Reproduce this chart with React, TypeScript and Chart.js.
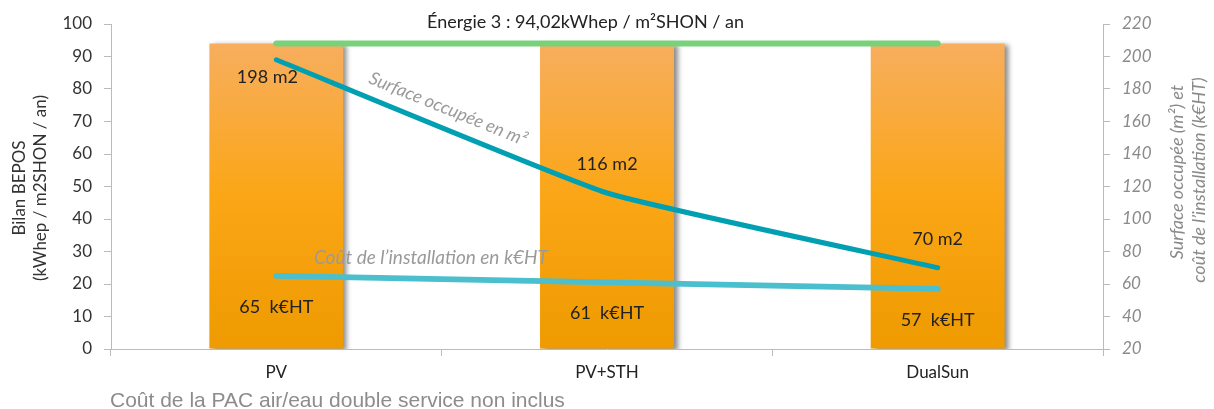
import React, { useEffect, useRef } from "react";
import { Chart, registerables } from "chart.js";

Chart.register(...registerables);

const categories = ["PV", "PV+STH", "DualSun"];
const bilanBepos = [94.02, 94.02, 94.02];
const energieRef = [94.02, 94.02, 94.02];
const surfaceM2 = [198, 116, 70];
const coutKEHT = [65, 61, 57];
const surfaceLabels = ["198 m2", "116 m2", "70 m2"];
const coutLabels = ["65  k€HT", "61  k€HT", "57  k€HT"];
const leftTicks = { min: 0, max: 100, step: 10 };
const rightTicks = { min: 20, max: 220, step: 20 };
const titleText = "Énergie 3 : 94,02kWhep / m²SHON / an";
const surfaceNote = "Surface occupée en m²";
const coutNote = "Coût de l’installation en k€HT";
const leftTitle = ["Bilan BEPOS", "(kWhep / m2SHON / an)"];
const rightTitle = ["Surface occupée (m²) et", "coût de l’installation (k€HT)"];
const footer = "Coût de la PAC air/eau double service non inclus";

const FONT = "Lato, 'Open Sans', sans-serif";

const shadowPlugin = {
  id: "barShadow",
  beforeDatasetDraw(chart: any, args: any) {
    if (args.meta.type === "bar") {
      const ctx = chart.ctx;
      ctx.save();
      ctx.shadowColor = "rgba(0,0,0,0.45)";
      ctx.shadowBlur = 5;
      ctx.shadowOffsetX = 4;
      ctx.shadowOffsetY = 2;
    }
  },
  afterDatasetDraw(chart: any, args: any) {
    if (args.meta.type === "bar") chart.ctx.restore();
  },
};

const textPlugin = {
  id: "annotText",
  afterDatasetsDraw(chart: any) {
    const ctx = chart.ctx;
    const x = chart.scales.x;
    const y1 = chart.scales.y1;
    ctx.save();
    ctx.fillStyle = "#222";
    ctx.font = `18px ${FONT}`;
    ctx.textAlign = "center";
    ctx.textBaseline = "middle";
    surfaceM2.forEach((v, i) => {
      const px = x.getPixelForValue(i);
      const py = y1.getPixelForValue(v);
      if (i === 0) ctx.fillText(surfaceLabels[i], px - 9, py + 17);
      else ctx.fillText(surfaceLabels[i], px, py - 29);
    });
    coutKEHT.forEach((v, i) => {
      const px = x.getPixelForValue(i);
      const py = y1.getPixelForValue(v);
      ctx.fillText(coutLabels[i], px, py + 31);
    });
    ctx.textAlign = "left";
    ctx.fillText(titleText, 427, 22);
    ctx.fillStyle = "#9a9a9a";
    ctx.font = `italic 19px ${FONT}`;
    ctx.fillText(coutNote, 314, 258);
    ctx.save();
    ctx.font = `italic 18px ${FONT}`;
    ctx.translate(448, 109);
    ctx.rotate((22 * Math.PI) / 180);
    ctx.textAlign = "center";
    ctx.fillText(surfaceNote, 0, 0);
    ctx.restore();
    ctx.save();
    ctx.fillStyle = "#333";
    ctx.font = `17px ${FONT}`;
    ctx.translate(30, 188);
    ctx.rotate(-Math.PI / 2);
    ctx.textAlign = "center";
    ctx.fillText(leftTitle[0], 0, -10.5);
    ctx.fillText(leftTitle[1], 0, 10.5);
    ctx.restore();
    ctx.save();
    ctx.fillStyle = "#8a8a8a";
    ctx.font = `italic 18px ${FONT}`;
    ctx.translate(1188, 0);
    ctx.rotate(-Math.PI / 2);
    ctx.textAlign = "center";
    ctx.fillText(rightTitle[0], -172, -11);
    ctx.fillText(rightTitle[1], -180, 11);
    ctx.restore();
    ctx.restore();
  },
};

export default function App() {
  const ref = useRef<HTMLCanvasElement>(null);
  useEffect(() => {
    const canvas = ref.current!;
    const barGradient = (ctx: any) => {
      const chart = ctx.chart;
      const area = chart.chartArea;
      if (!area) return "#F9A61A";
      const ys = chart.scales.y;
      const top = ys.getPixelForValue(94.02);
      const g = chart.ctx.createLinearGradient(0, top, 0, area.bottom);
      g.addColorStop(0, "#F7AE5E");
      g.addColorStop(0.5, "#FBA616");
      g.addColorStop(1, "#EE9A00");
      return g;
    };
    const chart = new Chart(canvas, {
      type: "bar",
      data: {
        labels: categories,
        datasets: [
          {
            type: "line",
            label: "Énergie 3",
            data: energieRef,
            yAxisID: "y",
            borderColor: "#79D27A",
            borderWidth: 6,
            borderCapStyle: "round",
            pointRadius: 0,
            order: 0,
          } as any,
          {
            type: "line",
            label: "Surface",
            data: surfaceM2,
            yAxisID: "y1",
            borderColor: "#00A0B2",
            borderWidth: 5,
            borderCapStyle: "round",
            tension: 0.12,
            pointRadius: 0,
            order: 1,
          } as any,
          {
            type: "line",
            label: "Coût",
            data: coutKEHT,
            yAxisID: "y1",
            borderColor: "#4BBFCD",
            borderWidth: 6,
            borderCapStyle: "round",
            pointRadius: 0,
            order: 2,
          } as any,
          {
            type: "bar",
            label: "Bilan BEPOS",
            data: bilanBepos,
            yAxisID: "y",
            backgroundColor: barGradient,
            categoryPercentage: 1,
            barPercentage: 0.405,
            order: 10,
          } as any,
        ],
      },
      options: {
        responsive: false,
        animation: false,
        events: [],
        layout: { padding: { top: 24, left: 0, right: 0, bottom: 0 } },
        plugins: { legend: { display: false }, tooltip: { enabled: false } },
        scales: {
          x: {
            offset: true,
            grid: { offset: true, drawOnChartArea: false, tickLength: 7, color: "#BBBBBB" },
            border: { color: "#BBBBBB" },
            ticks: { color: "#222", font: { family: FONT, size: 17 }, padding: 6 },
            afterFit: (s: any) => { s.height = 60; },
          },
          y: {
            position: "left",
            min: leftTicks.min,
            max: leftTicks.max,
            ticks: { stepSize: leftTicks.step, color: "#333", font: { family: FONT, size: 17 }, padding: 12 },
            grid: { drawOnChartArea: false, tickLength: 7, color: "#BBBBBB" },
            border: { color: "#BBBBBB" },
            afterFit: (s: any) => { s.width = 111; },
          },
          y1: {
            position: "right",
            min: rightTicks.min,
            max: rightTicks.max,
            ticks: { stepSize: rightTicks.step, color: "#8a8a8a", font: { family: FONT, size: 17, style: "italic" }, padding: 12 },
            grid: { drawOnChartArea: false, tickLength: 7, color: "#BBBBBB" },
            border: { color: "#BBBBBB" },
            afterFit: (s: any) => { s.width = 111; },
          },
        },
      } as any,
      plugins: [shadowPlugin, textPlugin],
    });
    return () => chart.destroy();
  }, []);
  return (
    <div style={{ position: "absolute", left: 0, top: 0, width: 1214, height: 409, background: "#fff" }}>
      <canvas ref={ref} width={1214} height={409} style={{ position: "absolute", left: 0, top: 0 }} />
      <div
        style={{
          position: "absolute",
          left: 110,
          top: 389,
          fontFamily: "'Liberation Sans', Arial, sans-serif",
          fontSize: 21,
          color: "#8c8c8c",
          lineHeight: "21px",
          whiteSpace: "nowrap",
        }}
      >
        {footer}
      </div>
    </div>
  );
}
